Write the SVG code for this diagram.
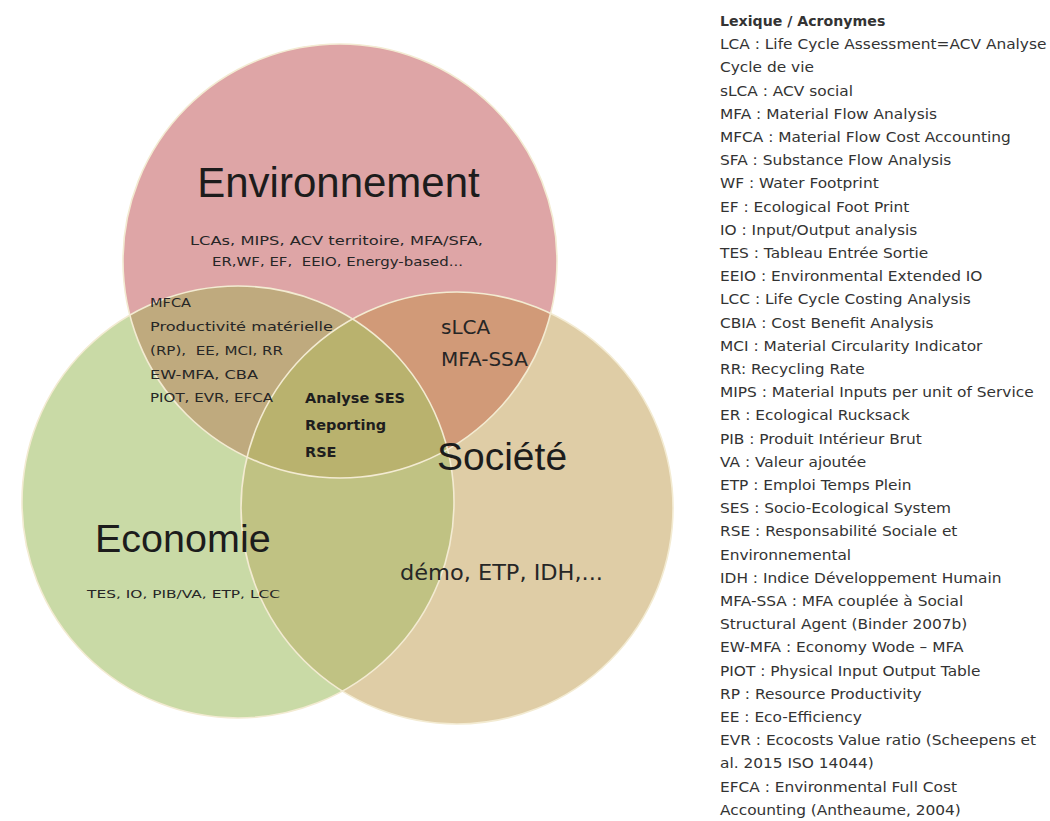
<svg xmlns="http://www.w3.org/2000/svg" width="1050" height="821" viewBox="0 0 1050 821">
  <style>
    .title { font-family: "Liberation Sans", Arial, sans-serif; fill: #1c1c1c; }
    .small { font-family: "DejaVu Sans", sans-serif; fill: #262626; }
    .bold { font-family: "DejaVu Sans", sans-serif; font-weight: bold; fill: #1e1e1e; }
    .leg { font-family: "DejaVu Sans", sans-serif; font-size: 13.5px; fill: #333333; }
    .edge { fill: none; stroke: #f3ebd2; stroke-width: 1.6; }
  </style>
  <defs>
    <clipPath id="cEnv"><circle cx="340" cy="261" r="217"/></clipPath>
    <clipPath id="cEco"><circle cx="238" cy="502" r="216"/></clipPath>
    <clipPath id="cSoc"><circle cx="457" cy="508" r="216"/></clipPath>
  </defs>
  <rect width="1050" height="821" fill="#ffffff"/>

  <!-- circles and overlaps -->
  <g id="node-environnement-shape">
    <circle cx="340" cy="261" r="217" fill="#dea5a6"/>
  </g>
  <g id="node-economie-shape">
    <circle cx="238" cy="502" r="216" fill="#c9daa6"/>
  </g>
  <g id="node-societe-shape">
    <circle cx="457" cy="508" r="216" fill="#dfcda6"/>
  </g>
  <g id="overlaps">
    <g clip-path="url(#cEnv)"><circle cx="238" cy="502" r="216" fill="#bfaa7e"/></g>
    <g clip-path="url(#cEnv)"><circle cx="457" cy="508" r="216" fill="#d19a78"/></g>
    <g clip-path="url(#cEco)"><circle cx="457" cy="508" r="216" fill="#c0c283"/></g>
    <g clip-path="url(#cEnv)"><g clip-path="url(#cEco)"><circle cx="457" cy="508" r="216" fill="#b9b26e"/></g></g>
  </g>
  <g id="edges">
    <circle class="edge" cx="340" cy="261" r="217"/>
    <circle class="edge" cx="238" cy="502" r="216"/>
    <circle class="edge" cx="457" cy="508" r="216"/>
  </g>

  <g id="connectors"/>

  <g id="node-environnement">
    <text class="title" x="338.5" y="197" font-size="42" text-anchor="middle">Environnement</text>
    <text class="small" x="336.5" y="245" font-size="12" text-anchor="middle" textLength="293" lengthAdjust="spacingAndGlyphs">LCAs, MIPS, ACV territoire, MFA/SFA,</text>
    <text class="small" x="337.5" y="266" font-size="12" text-anchor="middle" textLength="251" lengthAdjust="spacingAndGlyphs">ER,WF, EF,&#160; EEIO, Energy-based...</text>
  </g>

  <g id="node-env-eco">
    <text class="small" x="150" y="307" font-size="12" textLength="41" lengthAdjust="spacingAndGlyphs">MFCA</text>
    <text class="small" x="150" y="331" font-size="12" textLength="183" lengthAdjust="spacingAndGlyphs">Productivité matérielle</text>
    <text class="small" x="150" y="355" font-size="12" textLength="133" lengthAdjust="spacingAndGlyphs">(RP),&#160; EE, MCI, RR</text>
    <text class="small" x="150" y="379" font-size="12" textLength="108" lengthAdjust="spacingAndGlyphs">EW-MFA, CBA</text>
    <text class="small" x="150" y="402" font-size="12" textLength="123" lengthAdjust="spacingAndGlyphs">PIOT, EVR, EFCA</text>
  </g>

  <g id="node-env-soc">
    <text class="small" x="441" y="334" font-size="20">sLCA</text>
    <text class="small" x="441" y="366" font-size="20">MFA-SSA</text>
  </g>

  <g id="node-center">
    <text class="bold" x="305" y="403" font-size="14.5">Analyse SES</text>
    <text class="bold" x="305" y="430" font-size="14.5">Reporting</text>
    <text class="bold" x="305" y="457" font-size="14.5">RSE</text>
  </g>

  <g id="node-societe">
    <text class="title" x="437" y="470" font-size="39">Société</text>
    <text class="small" x="400" y="580" font-size="22" textLength="203" lengthAdjust="spacingAndGlyphs">démo, ETP, IDH,...</text>
  </g>

  <g id="node-economie">
    <text class="title" x="95" y="552" font-size="39.5">Economie</text>
    <text class="small" x="87" y="598" font-size="10.5" textLength="193" lengthAdjust="spacingAndGlyphs">TES, IO, PIB/VA, ETP, LCC</text>
  </g>

  <g id="legend" transform="translate(720,0) scale(1.14,1)">
    <text class="leg" x="0" y="26" font-weight="bold" textLength="145" lengthAdjust="spacingAndGlyphs">Lexique / Acronymes</text>
    <text class="leg" x="0" y="49.2">LCA : Life Cycle Assessment=ACV Analyse</text>
    <text class="leg" x="0" y="72.4">Cycle de vie</text>
    <text class="leg" x="0" y="95.6">sLCA : ACV social</text>
    <text class="leg" x="0" y="118.8">MFA : Material Flow Analysis</text>
    <text class="leg" x="0" y="142">MFCA : Material Flow Cost Accounting</text>
    <text class="leg" x="0" y="165.2">SFA : Substance Flow Analysis</text>
    <text class="leg" x="0" y="188.4">WF : Water Footprint</text>
    <text class="leg" x="0" y="211.6">EF : Ecological Foot Print</text>
    <text class="leg" x="0" y="234.8">IO : Input/Output analysis</text>
    <text class="leg" x="0" y="258">TES : Tableau Entrée Sortie</text>
    <text class="leg" x="0" y="281.2">EEIO : Environmental Extended IO</text>
    <text class="leg" x="0" y="304.4">LCC : Life Cycle Costing Analysis</text>
    <text class="leg" x="0" y="327.6">CBIA : Cost Benefit Analysis</text>
    <text class="leg" x="0" y="350.8">MCI : Material Circularity Indicator</text>
    <text class="leg" x="0" y="374">RR: Recycling Rate</text>
    <text class="leg" x="0" y="397.2">MIPS : Material Inputs per unit of Service</text>
    <text class="leg" x="0" y="420.4">ER : Ecological Rucksack</text>
    <text class="leg" x="0" y="443.6">PIB : Produit Intérieur Brut</text>
    <text class="leg" x="0" y="466.8">VA : Valeur ajoutée</text>
    <text class="leg" x="0" y="490">ETP : Emploi Temps Plein</text>
    <text class="leg" x="0" y="513.2">SES : Socio-Ecological System</text>
    <text class="leg" x="0" y="536.4">RSE : Responsabilité Sociale et</text>
    <text class="leg" x="0" y="559.6">Environnemental</text>
    <text class="leg" x="0" y="582.8">IDH : Indice Développement Humain</text>
    <text class="leg" x="0" y="606">MFA-SSA : MFA couplée à Social</text>
    <text class="leg" x="0" y="629.2">Structural Agent (Binder 2007b)</text>
    <text class="leg" x="0" y="652.4">EW-MFA : Economy Wode – MFA</text>
    <text class="leg" x="0" y="675.6">PIOT : Physical Input Output Table</text>
    <text class="leg" x="0" y="698.8">RP : Resource Productivity</text>
    <text class="leg" x="0" y="722">EE : Eco-Efficiency</text>
    <text class="leg" x="0" y="745.2">EVR : Ecocosts Value ratio (Scheepens et</text>
    <text class="leg" x="0" y="768.4">al. 2015 ISO 14044)</text>
    <text class="leg" x="0" y="791.6">EFCA : Environmental Full Cost</text>
    <text class="leg" x="0" y="814.8">Accounting (Antheaume, 2004)</text>
  </g>
</svg>
